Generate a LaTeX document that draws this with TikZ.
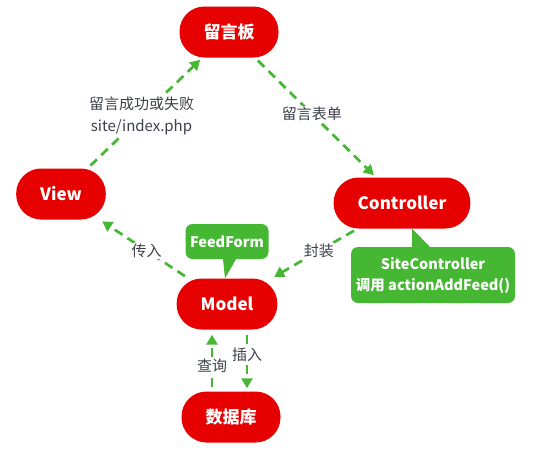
\documentclass[tikz,border=0pt]{standalone}
\usepackage{fontspec}
\setmainfont{Noto Sans CJK SC}
\usetikzlibrary{positioning,arrows.meta}
\definecolor{boxred}{HTML}{E60000}
\definecolor{notegreen}{HTML}{45B733}
\definecolor{labelgray}{HTML}{3C4149}

\begin{document}
\begin{tikzpicture}[x=1pt,y=-1pt,on grid,
  box/.style={fill=boxred,text=white,rounded corners=25pt,minimum height=51pt,inner xsep=24pt,font=\fontsize{17}{20}\selectfont\bfseries},
  note/.style={fill=notegreen,text=white,rounded corners=7pt,align=center,font=\fontsize{14.5}{21}\selectfont\bfseries},
  flow/.style={draw=notegreen,line width=2.7pt,dash pattern=on 9pt off 6pt,-{Triangle[length=10pt,width=11pt]},shorten <=4pt,shorten >=3pt},
  lbl/.style={fill=white,text=labelgray,inner sep=1pt,align=center,font=\fontsize{15}{22}\selectfont}]
  \useasboundingbox (0,0) rectangle (544,453);
  \node[box] (board) at (229,32)                            {留言板};
  \node[box] (view)  [below left=162pt and 168pt of board]  {View};
  \node[box] (ctrl)  [below right=171pt and 173pt of board] {Controller};
  \node[box] (model) [below left=272pt and 2pt of board]    {Model};
  \node[box] (db)    [below right=113pt and 4pt of model]   {数据库};
  \node[note,minimum width=83pt,minimum height=35pt] (feed) [above=62.5pt of model] {FeedForm};
  \node[note,minimum width=164pt,minimum height=56pt] (site) [below right=72pt and 31pt of ctrl] {SiteController\\调用 actionAddFeed()};
  \fill[notegreen] ([xshift=-4pt]feed.south) -- ([xshift=9pt]feed.south) -- ([xshift=-2pt]model.north) -- cycle;
  \coordinate (sitetip)  at ([xshift=10pt]ctrl.south);
  \coordinate (sitebase) at (sitetip |- site.north);
  \fill[notegreen] (sitetip) -- (sitebase) -- ([xshift=18pt]sitebase) -- cycle;
  \coordinate (qx) at ([xshift=-15pt]model.south);
  \coordinate (ix) at ([xshift=20pt]model.south);
  \path (view)  edge[flow] node[lbl,pos=.47] {留言成功或失败\\site/index.php} (board)
        (board) edge[flow] node[lbl,pos=.47] {留言表单} (ctrl)
        (ctrl)  edge[flow] node[lbl,pos=.45] {封装} (model)
        (model) edge[flow] node[lbl,pos=.47] {传入} (view)
        (qx |- db.north) edge[flow,shorten >=5pt] node[lbl,pos=.42] {查询} (qx)
        (ix) edge[flow,shorten <=5pt] node[lbl,pos=.4] {插入} (ix |- db.north);
\end{tikzpicture}
\end{document}
